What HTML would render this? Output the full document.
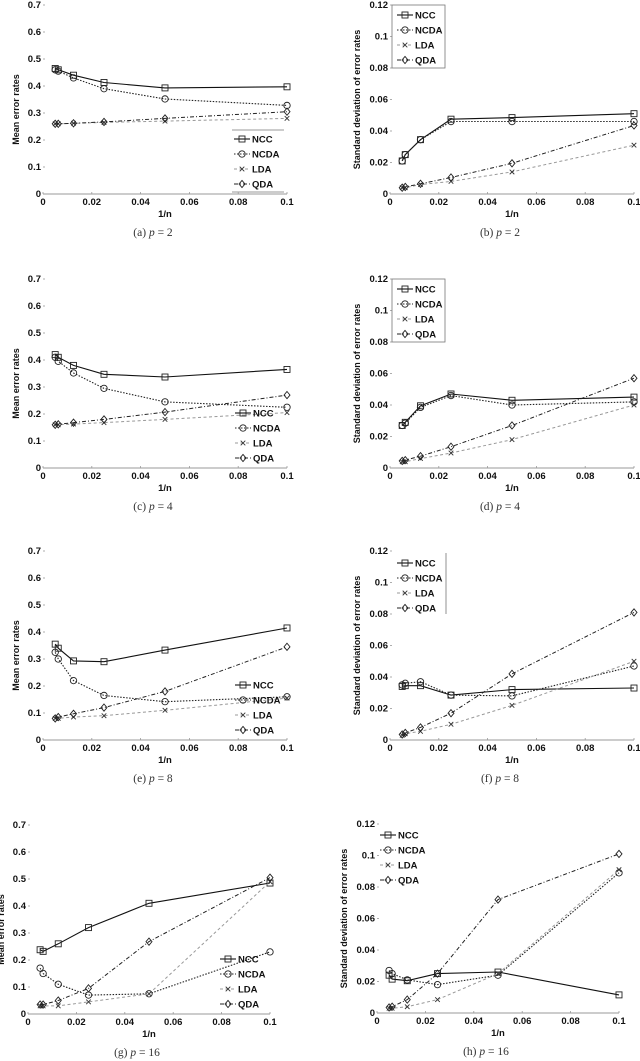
<!DOCTYPE html>
<html><head><meta charset="utf-8">
<style>
html,body{margin:0;padding:0;background:#fff;}
svg{display:block;}
.tick{font-family:"Liberation Sans",sans-serif;font-weight:bold;font-size:9.5px;fill:#111;}
.ylab{font-family:"Liberation Sans",sans-serif;font-weight:bold;font-size:9px;fill:#111;}
.cap{font-family:"Liberation Serif",serif;font-size:11.5px;fill:#333;}
.leg{font-family:"Liberation Sans",sans-serif;font-weight:bold;font-size:9.5px;fill:#111;}
</style></head>
<body>
<svg id="fig" width="640" height="1061" viewBox="0 0 640 1061" xmlns="http://www.w3.org/2000/svg"></svg>
<script>
const xVals = [0.005, 0.00625, 0.0125, 0.025, 0.05, 0.1];
const seriesNames = ["NCC","NCDA","LDA","QDA"];
const meanTicks = [0,0.1,0.2,0.3,0.4,0.5,0.6,0.7];
const sdTicks = [0,0.02,0.04,0.06,0.08,0.1,0.12];
const xTicks = [0,0.02,0.04,0.06,0.08,0.1];
const xTickLabels = ["0","0.02","0.04","0.06","0.08","0.1"];
const meanTickLabels = ["0","0.1","0.2","0.3","0.4","0.5","0.6","0.7"];
const sdTickLabels = ["0","0.02","0.04","0.06","0.08","0.1","0.12"];

const aNCC=[.465,.46,.44,.413,.393,.397], aNCDA=[.46,.455,.43,.39,.352,.328], aLDA=[.26,.26,.262,.265,.27,.28], aQDA=[.26,.26,.262,.267,.28,.305];
const bNCC=[.021,.025,.0345,.0475,.0485,.051], bNCDA=[.021,.025,.0345,.046,.046,.046], bLDA=[.004,.004,.006,.008,.014,.031], bQDA=[.004,.0045,.0065,.0105,.0195,.0435];
const cNCC=[.42,.41,.38,.347,.337,.365], cNCDA=[.41,.395,.352,.295,.245,.225], cLDA=[.16,.16,.163,.168,.18,.205], cQDA=[.16,.162,.168,.18,.207,.27];
const dNCC=[.027,.029,.0395,.047,.043,.045], dNCDA=[.027,.0285,.0385,.046,.040,.042], dLDA=[.004,.004,.006,.0095,.018,.040], dQDA=[.0045,.005,.0075,.0135,.027,.057];
const eNCC=[.355,.34,.293,.29,.333,.415], eNCDA=[.325,.30,.22,.165,.142,.16], eLDA=[.08,.08,.085,.09,.11,.155], eQDA=[.08,.085,.097,.12,.18,.345];
const fNCC=[.034,.0345,.0345,.0285,.032,.033], fNCDA=[.035,.036,.037,.0285,.028,.047], fLDA=[.003,.004,.0055,.010,.022,.050], fQDA=[.0035,.0045,.008,.017,.042,.081];
const gNCC=[.238,.232,.26,.32,.41,.485], gNCDA=[.17,.15,.11,.07,.075,.23], gLDA=[.03,.03,.03,.045,.075,.49], gQDA=[.035,.035,.05,.095,.268,.505];
const hNCC=[.024,.0215,.0205,.025,.026,.0115], hNCDA=[.027,.025,.021,.018,.024,.089], hLDA=[.003,.003,.004,.0085,.025,.091], hQDA=[.0035,.004,.0085,.025,.072,.101];

const NS="http://www.w3.org/2000/svg";
const svg=document.getElementById("fig");
function mk(tag,attrs,parent){const e=document.createElementNS(NS,tag);for(const k in attrs)e.setAttribute(k,attrs[k]);(parent||svg).appendChild(e);return e;}

const styles={
 NCC:{stroke:"#111",dash:"",w:1.1},
 NCDA:{stroke:"#222",dash:"1.5,1.5",w:1.1},
 LDA:{stroke:"#999",dash:"3,2.5",w:1},
 QDA:{stroke:"#222",dash:"4,2,1,2",w:1}
};
function marker(g,name,x,y){
 let m;
 if(name==="NCC") m=mk("rect",{x:x-3,y:y-3,width:6,height:6,fill:"none",stroke:"#222","stroke-width":0.9},g);
 else if(name==="NCDA") m=mk("circle",{cx:x,cy:y,r:3.2,fill:"none",stroke:"#222","stroke-width":0.9},g);
 else if(name==="LDA") m=mk("path",{d:`M${x-2.3},${y-2.3}L${x+2.3},${y+2.3}M${x-2.3},${y+2.3}L${x+2.3},${y-2.3}`,stroke:"#333","stroke-width":0.9},g);
 else m=mk("path",{d:`M${x},${y-3.6}L${x+3},${y}L${x},${y+3.6}L${x-3},${y}Z`,fill:"none",stroke:"#222","stroke-width":0.9},g);
 return m;
}

const panels=[
 {id:"a",x0:43,x1:287,y0:194,mean:true,data:[aNCC,aNCDA,aLDA,aQDA],cap:"(a)",p:"2",leg:{lx:234,ly:139,box:"tb"}},
 {id:"b",x0:390,x1:634,y0:194,mean:false,data:[bNCC,bNCDA,bLDA,bQDA],cap:"(b)",p:"2",leg:{lx:397,ly:15,box:"full"}},
 {id:"c",x0:43,x1:287,y0:468,mean:true,data:[cNCC,cNCDA,cLDA,cQDA],cap:"(c)",p:"4",leg:{lx:235,ly:413,box:"none"}},
 {id:"d",x0:390,x1:634,y0:468,mean:false,data:[dNCC,dNCDA,dLDA,dQDA],cap:"(d)",p:"4",leg:{lx:397,ly:289,box:"full"}},
 {id:"e",x0:43,x1:287,y0:740,mean:true,data:[eNCC,eNCDA,eLDA,eQDA],cap:"(e)",p:"8",leg:{lx:235,ly:685,box:"none"}},
 {id:"f",x0:390,x1:634,y0:740,mean:false,data:[fNCC,fNCDA,fLDA,fQDA],cap:"(f)",p:"8",leg:{lx:397,ly:563,box:"right"}},
 {id:"g",x0:28,x1:270,y0:1014,mean:true,data:[gNCC,gNCDA,gLDA,gQDA],cap:"(g)",p:"16",leg:{lx:220,ly:959,box:"none"}},
 {id:"h",x0:377,x1:619,y0:1013,mean:false,data:[hNCC,hNCDA,hLDA,hQDA],cap:"(h)",p:"16",leg:{lx:380,ly:835,box:"none"}}
];

panels.forEach(P=>{
 const g=mk("g",{});
 
 
 const ymax=P.mean?0.7:0.12;
 const ticks=P.mean?meanTicks:sdTicks;
 const tlabels=P.mean?meanTickLabels:sdTickLabels;
 const yTopPx=P.y0-189;
 const X=v=>P.x0+(v/0.1)*(P.x1-P.x0);
 const Y=v=>P.y0-(v/ymax)*(P.y0-yTopPx);
 const ax=mk("line",{x1:P.x0,y1:P.y0,x2:P.x1,y2:P.y0,stroke:"#999","stroke-width":1},g);
 
 
 xTicks.forEach((t,i)=>{
  mk("line",{x1:X(t),y1:P.y0,x2:X(t),y2:P.y0-2,stroke:"#999","stroke-width":0.8},g);
  const tx=mk("text",{x:X(t),y:P.y0+11,"text-anchor":"middle",class:"tick"},g);
  tx.textContent=xTickLabels[i];
  
  
 });
 ticks.forEach((t,i)=>{
  mk("line",{x1:P.x0,y1:Y(t),x2:P.x0+2,y2:Y(t),stroke:"#999","stroke-width":0.8},g);
  const ty=mk("text",{x:P.x0-2,y:Y(t)+3,"text-anchor":"end",class:"tick"},g);
  ty.textContent=tlabels[i];
  
  
 });
 const xl=mk("text",{x:(P.x0+P.x1)/2,y:P.y0+23,"text-anchor":"middle",class:"tick"},g);
 xl.textContent="1/n";
 
 
 const ylx=P.mean?P.x0-24:P.x0-30;
 const ylc=(P.y0+yTopPx)/2+(P.mean?10:0);
 const yl=mk("text",{x:ylx,y:ylc,"text-anchor":"middle",class:"ylab",transform:`rotate(-90 ${ylx} ${ylc})`},g);
 yl.textContent=P.mean?"Mean error rates":"Standard deviation of  error rates";
 
 
 const cap=mk("text",{x:(P.x0+P.x1)/2-12,y:P.y0+42,"text-anchor":"middle",class:"cap"},g);
 
 
 cap.innerHTML=P.cap+' <tspan font-style="italic">p</tspan> = '+P.p;
 seriesNames.forEach((name,si)=>{
  const vals=P.data[si];const st=styles[name];
  const pts=vals.map((v,i)=>X(xVals[i]).toFixed(1)+","+Y(v).toFixed(1)).join(" ");
  const pl=mk("polyline",{points:pts,fill:"none",stroke:st.stroke,"stroke-width":st.w,"stroke-dasharray":st.dash},g);
  
  
  vals.forEach((v,i)=>{
   const m=marker(g,name,X(xVals[i]),Y(v));
   
   
  });
 });
 const L=P.leg;const lg=mk("g",{},g);
 
 
 const lw=53;
 if(L.box==="full") mk("rect",{x:L.lx-5,y:L.ly-10,width:lw,height:63,fill:"#fff",stroke:"#777","stroke-width":0.8},lg);
 if(L.box==="tb"){mk("line",{x1:L.lx-2,y1:L.ly-9,x2:L.lx+50,y2:L.ly-9,stroke:"#999"},lg);mk("line",{x1:L.lx-2,y1:L.ly+53,x2:L.lx+50,y2:L.ly+53,stroke:"#999"},lg);}
 if(L.box==="right") mk("line",{x1:L.lx+49,y1:L.ly-10,x2:L.lx+49,y2:L.ly+51,stroke:"#777","stroke-width":0.8},lg);
 seriesNames.forEach((name,si)=>{
  const yy=L.ly+si*15;const st=styles[name];
  mk("line",{x1:L.lx,y1:yy,x2:L.lx+16,y2:yy,stroke:st.stroke,"stroke-width":st.w,"stroke-dasharray":st.dash},lg);
  marker(lg,name,L.lx+8,yy);
  const t=mk("text",{x:L.lx+18,y:yy+3.5,class:"leg"},lg);
  t.textContent=name;
  
  
 });
});
</script>
</body></html>
